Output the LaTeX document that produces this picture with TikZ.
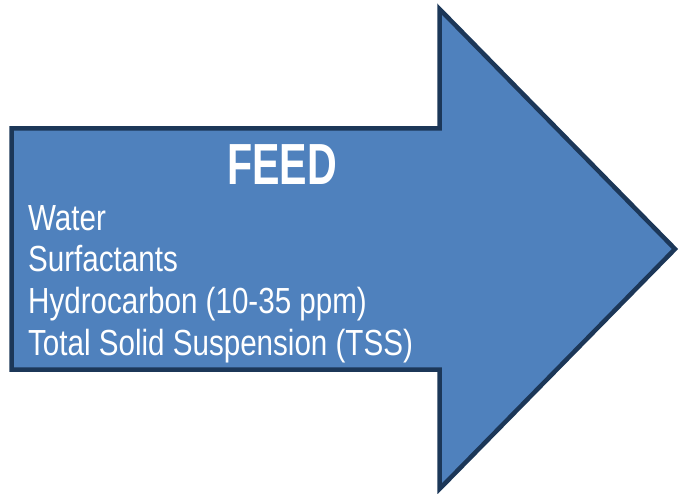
\documentclass[tikz,border=0pt]{standalone}
\usepackage{fontspec}
\setmainfont{Liberation Sans}
\definecolor{arrowfill}{HTML}{4F81BD}
\definecolor{arrowline}{HTML}{1C3758}
\begin{document}
\begin{tikzpicture}[x=1pt,y=-1pt,
  bodytext/.style={text=white, inner sep=0pt, anchor=base west,
    font=\fontsize{36.3}{40}\selectfont, xscale=0.815},
  titletext/.style={text=white, inner sep=0pt, anchor=base,
    font=\bfseries\fontsize{58}{64}\selectfont, xscale=0.71}]
\useasboundingbox (0,0) rectangle (679,494);
\draw[fill=arrowfill, draw=arrowline, line width=4.5pt, line join=miter]
  (11.5,128.5) -- (439.5,128.5) -- (439.5,9) -- (675,249) -- (439.5,489)
  -- (439.5,369.5) -- (11.5,369.5) -- cycle;
\node[titletext] (feed) at (282,185) {FEED};
\node[bodytext] (water) at (28,230) {Water};
\node[bodytext] (surf) at (28,271.5) {Surfactants};
\node[bodytext] (hydro) at (28,313) {Hydrocarbon (10-35 ppm)};
\node[bodytext] (tss) at (28,355) {Total Solid Suspension (TSS)};
\end{tikzpicture}
\end{document}
